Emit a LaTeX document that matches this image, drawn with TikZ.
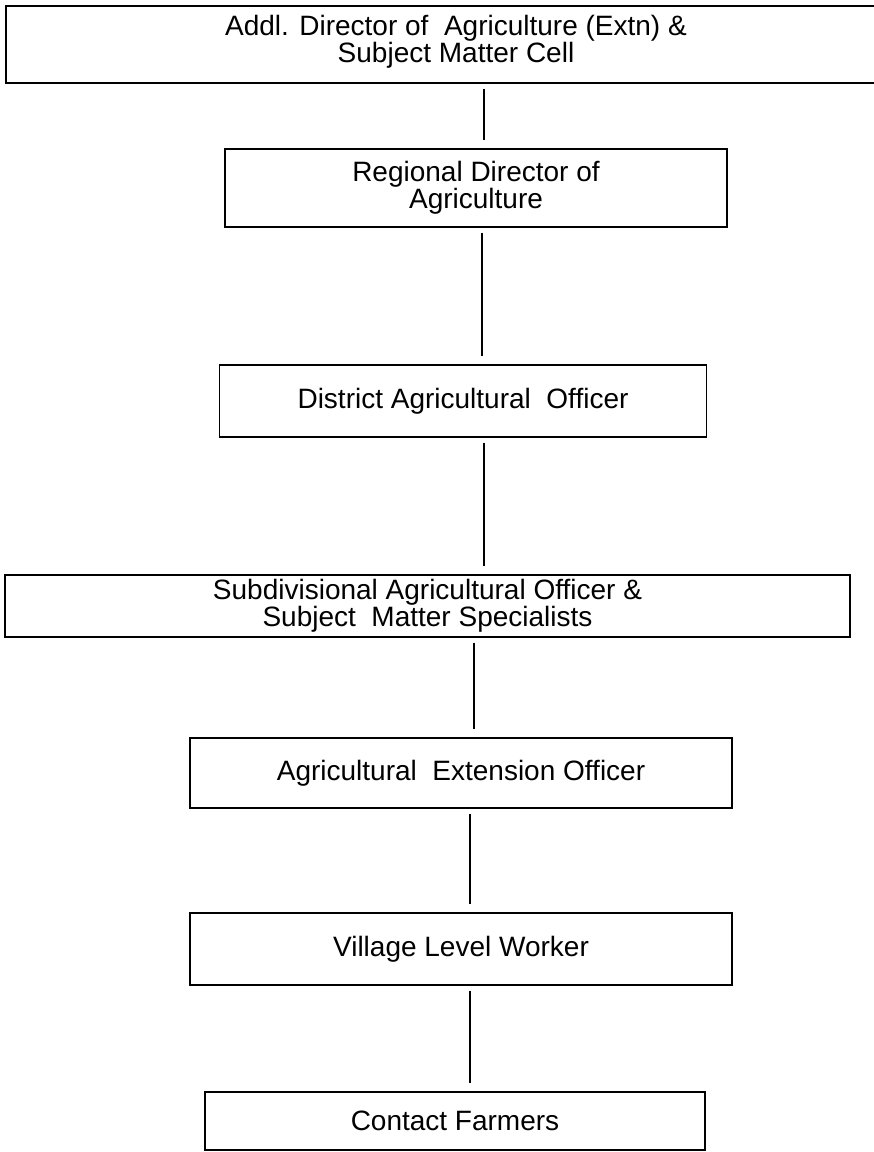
\documentclass[tikz,border=0pt]{standalone}
\usepackage{fontspec}
\setmainfont{Liberation Sans}
\begin{document}
\begin{tikzpicture}[x=1pt,y=-1pt,
  box/.style={draw, line width=1.4pt, rectangle, inner sep=0pt, align=center,
    font=\fontsize{28}{25}\selectfont},
  conn/.style={line width=1.2pt, shorten <=5pt, shorten >=8pt}]
\useasboundingbox (0,0) rectangle (874,1152);
\node[box, minimum width=960pt, minimum height=77pt, text depth=12pt] (b1) at (486,44.5) {\hspace*{-60pt}Addl. Director of\ \ Agriculture (Extn) \&\\\hspace*{-60pt}Subject Matter Cell};
\node[box, minimum width=502pt, minimum height=78pt] (b2) at (476,188) {Regional Director of\\Agriculture};
\node[box, minimum width=487pt, minimum height=72pt] (b3) at (463,401) {District Agricultural\ \ Officer};
\node[box, minimum width=845pt, minimum height=62pt] (b4) at (427.5,606) {Subdivisional Agricultural Officer \&\\Subject\ \ Matter Specialists};
\node[box, minimum width=542pt, minimum height=70pt] (b5) at (461,773) {Agricultural\ \ Extension Officer};
\node[box, minimum width=542pt, minimum height=72pt] (b6) at (461,949) {Village Level Worker};
\node[box, minimum width=500pt, minimum height=58pt] (b7) at (455,1121) {Contact Farmers};
\coordinate (x1) at (484,0);
\coordinate (x2) at (482,0);
\coordinate (x3) at (484,0);
\coordinate (x4) at (474,0);
\coordinate (x5) at (470,0);
\coordinate (x6) at (470,0);
\draw[conn] (b1.south -| x1) -- (b2.north -| x1);
\draw[conn] (b2.south -| x2) -- (b3.north -| x2);
\draw[conn] (b3.south -| x3) -- (b4.north -| x3);
\draw[conn] (b4.south -| x4) -- (b5.north -| x4);
\draw[conn] (b5.south -| x5) -- (b6.north -| x5);
\draw[conn] (b6.south -| x6) -- (b7.north -| x6);
\end{tikzpicture}
\end{document}
